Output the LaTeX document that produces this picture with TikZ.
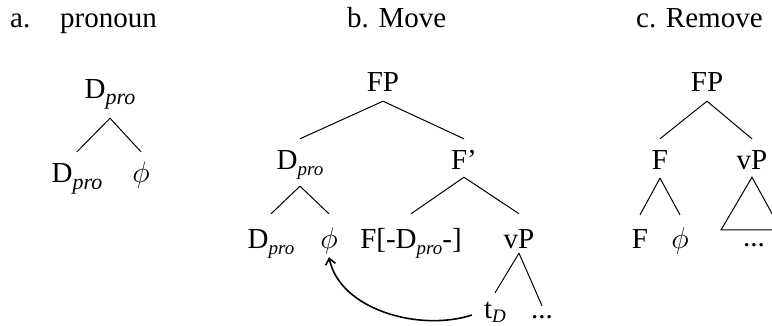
\RequirePackage{fix-cm}
\documentclass[tikz,border=0pt]{standalone}
\usepackage{fontspec}
\setmainfont{Liberation Serif}
\usetikzlibrary{arrows.meta}
\newcommand\mysub[1]{\raisebox{-6pt}{\fontsize{19}{19}\selectfont\itshape #1}}
\newcommand\mysubA[1]{\raisebox{-6pt}{\fontsize{22}{22}\selectfont\itshape #1}}
\newcommand\myphi{\fontsize{30}{34}\selectfont$\phi$}
\begin{document}
\begin{tikzpicture}[x=1pt,y=-1pt,
  every node/.style={font=\fontsize{29}{34}\selectfont},
  lab/.style={anchor=base, inner sep=0pt, text height=31pt, text depth=9pt},
  ttl/.style={anchor=base west, inner sep=0pt},
  edge/.style={line width=1pt},
  mv/.style={line width=1.6pt, -{Straight Barb[length=6pt,width=10pt]}}]
\useasboundingbox (0,0) rectangle (772,326);
\clip (0,0) rectangle (772,326);
% titles
\node[ttl] (ta1) at (10,28) {a.};
\node[ttl] (ta2) at (60,28) {pronoun};
\node[ttl] (tb) at (347,28) {b. Move};
\node[ttl] (tc) at (636,28) {c. Remove};
% tree a
\node[lab, text depth=19pt] (a0) at (110,99) {D\mysubA{pro}};
\node[lab] (a1) at (77,183) {D\mysubA{pro}};
\node[lab] (a2) at (141,183) {\myphi};
\draw[edge] (a0.south) -- (a1.north);
\draw[edge] (a0.south) -- (a2.north);
% tree b
\node[lab] (b0) at (383,92) {FP};
\node[lab, text depth=16pt] (b1) at (300,170) {D\mysub{pro}};
\node[lab, text depth=7pt] (b2) at (464,170) {F’};
\node[lab, text height=34pt] (b3) at (271,248) {D\mysub{pro}};
\node[lab, text height=34pt] (b4) at (329,248) {\myphi};
\node[lab, text height=34pt] (b5) at (411,248) {F[-D\mysub{pro}-]};
\node[lab, text height=34pt, text depth=5pt] (b6) at (519,248) {vP};
\node[lab, text height=25pt] (b7) at (495,318) {t\raisebox{-4pt}{\fontsize{19}{19}\selectfont\itshape D}};
\node[lab, text height=12pt] (b8) at (542,318) {...};
\draw[edge] (b0.south) -- (b1.north);
\draw[edge] (b0.south) -- (b2.north);
\draw[edge] (b1.south) -- (b3.north);
\draw[edge] (b1.south) -- (b4.north);
\draw[edge] (b2.south) -- (b5.north);
\draw[edge] (b2.south) -- (b6.north);
\draw[edge] (b6.south) -- (b7.north);
\draw[edge] (b6.south) -- (b8.north);
\draw[mv] ([shift={(-12pt,-5pt)}]b7.west) .. controls (420,332) and (340,310) .. (b4.south);
% tree c
\node[lab] (c0) at (707,92) {FP};
\node[lab, text depth=8pt] (c1) at (660,170) {F};
\node[lab, text depth=7pt] (c2) at (752,170) {vP};
\node[lab, text height=33pt] (c3) at (640,248) {F};
\node[lab, text height=33pt] (c4) at (680,248) {\myphi};
\node[lab] (c5) at (754,247) {...};
\coordinate (tl) at (721,230);
\coordinate (tr) at (781,230);
\draw[edge] (c0.south) -- (c1.north);
\draw[edge] (c0.south) -- (c2.north);
\draw[edge] (c1.south) -- (c3.north);
\draw[edge] (c1.south) -- (c4.north);
\draw[edge] (c2.south) -- (tl) -- (tr) -- cycle;
\end{tikzpicture}
\end{document}
